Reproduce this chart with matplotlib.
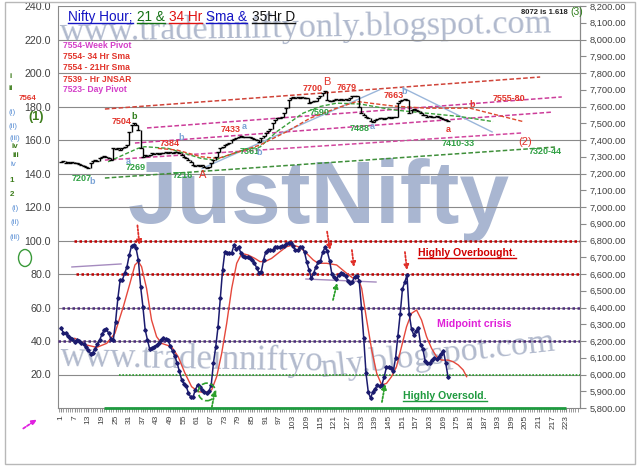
import matplotlib
matplotlib.use('Agg')
import matplotlib.pyplot as plt
from matplotlib import font_manager
from matplotlib.patches import Ellipse, Rectangle, FancyArrowPatch
from matplotlib.lines import Line2D
from matplotlib.ticker import FixedLocator, FuncFormatter
import numpy as np


def has_font(name):
    try:
        font_manager.findfont(name, fallback_to_default=False)
        return True
    except Exception:
        return False


SANS = 'Liberation Sans'
NARROW = 'Liberation Sans Narrow' if has_font('Liberation Sans Narrow') else SANS
SERIF = 'Liberation Serif'
plt.rcParams['font.family'] = [SANS, 'DejaVu Sans']

# ---------------- data ----------------
bars = np.arange(1, 172)
price = [147, 147.5, 146.5, 147, 146, 147, 146.5, 146, 145.5, 145,
         144.5, 144, 143, 146, 147.5, 148, 147.5, 149, 150, 150.5,
         150, 149.5, 148, 155, 154.5, 155, 154, 155, 156, 157,
         165, 169, 170, 169, 166, 155, 150, 151, 150.5, 151,
         152, 151.5, 152, 151.5, 152, 152.5, 153, 152.5, 153, 152.5,
         153, 153, 152.5, 151, 150, 149, 148, 147, 145, 144.5,
         145, 144.5, 145, 144, 143.5, 144, 146, 148, 150, 153,
         155, 156, 157, 157.5, 158, 160, 160.5, 161, 162, 162.5,
         162, 162, 161.5, 161.5, 161, 160.5, 160, 159, 161, 162.5,
         164, 165.5, 166.5, 170, 172, 173, 173, 174, 176, 179,
         184, 185, 185.5, 185, 185.5, 185, 185.5, 185, 185, 182,
         182.5, 183, 183.5, 185, 186.5, 188, 189, 184, 183, 183.5,
         184, 184.5, 184, 184.5, 184, 184.5, 184, 185, 186, 186.5,
         186, 180, 176, 175, 174, 173, 171.5, 171, 172, 172.5,
         173, 173, 172.5, 173, 173.5, 173, 173.5, 174, 182, 183,
         184, 184.5, 184, 176, 178, 178.5, 178, 177.5, 176, 175,
         175, 174, 174.5, 174, 174, 174.5, 174, 173, 172.5, 172, 171.5]

osc = [48, 45, 44.5, 43, 42, 41, 39.6, 40.5, 40, 39,
       38, 36.5, 34.6, 32.5, 33, 35.5, 38, 40.5, 44, 46.6,
       47, 44.5, 41, 40.6, 51.6, 65.5, 76.4, 76.6, 80.4, 84.4,
       91.3, 96.7, 97.3, 95.3, 88.4, 72.4, 60.5, 46.6, 40.6, 35,
       35.6, 36.6, 37.6, 38.6, 40.6, 41.6, 41, 40.6, 37, 34,
       31, 27, 22, 17, 14.5, 13, 9, 6.4, 6.4, 10.8,
       13.7, 12.7, 10.8, 9.5, 9.2, 10, 13.7, 27, 36.6, 48.5,
       65.5, 82.4, 93.3, 92.3, 92.3, 92.5, 97.3, 94.7, 96.3, 92.7,
       90.7, 90.3, 90, 89.3, 88.4, 86.8, 83.4, 80.8, 81.4, 88.4,
       93.3, 94.3, 94.5, 94.3, 95.9, 96, 95.9, 96.7, 96.7, 97.9,
       98.7, 98.3, 96.7, 94.3, 94.3, 95.9, 96, 93, 87, 82.4,
       77.4, 80.4, 84.4, 86.9, 88, 93, 96, 93.5, 88, 80,
       78, 76.8, 79.4, 80.4, 80, 78.6, 76, 74.5, 75.5, 78.5,
       79, 76, 60, 41.6, 20.7, 9.5, 5.8, 9.8, 11.5, 13.7,
       13.1, 14, 18.7, 24.5, 24.5, 24, 22, 30, 43, 56,
       71, 75, 79.4, 56, 47, 43.6, 46, 47.6, 37.5, 35,
       28, 26.7, 27, 28.5, 29.6, 29, 30.5, 32.5, 34.2, 27, 18.7]

sig_x = [7.1, 12.3, 16.7, 21.1, 24.7, 28.4, 31.3, 33.5, 35, 36.4,
         38.6, 40.8, 43, 45.2, 47.4, 49.6, 52.5, 55.5, 58.4, 61.3,
         64.3, 67.2, 69.4, 71.6, 73.8, 76, 78.2, 80.4, 83.3, 86.2,
         88.4, 90.6, 93.5, 97.2, 100.1, 103, 106, 108.9, 111.8, 114,
         117.7, 122.1, 126.5, 129.4, 131.6, 133.1, 135.3, 137.5, 139.7, 141.9,
         144, 146.2, 148.4, 150.6, 152.8, 155, 157.2, 159.4, 161.6, 163.8,
         166, 168.2, 171.1, 173.3, 175.5, 177.7, 179.2]
sig_y = [41.6, 37.6, 36.2, 38.6, 44.6, 60.5, 74.4, 85.4, 87.4, 84.4,
         71.4, 52.5, 42.6, 38.6, 37.6, 36.6, 30.6, 20.7, 12.7, 9.8,
         9.2, 10.8, 18.7, 32.6, 50.5, 71.4, 86.4, 92.3, 91.3, 89.3,
         87.4, 87.4, 89.3, 93.3, 96.3, 97.3, 95.9, 92.3, 88.4, 86.4,
         86.4, 85.4, 80.4, 77.4, 77.4, 71.4, 52.5, 34.6, 20.7, 13.7,
         14.7, 18.7, 24.7, 36.6, 48.5, 56.5, 58.5, 52.5, 42.6, 35.6,
         30.6, 28.6, 28.6, 27.6, 25.7, 22.7, 18.7]

sma21_x = [21.7, 34.8, 37.8, 48.0, 55.4, 62.6, 68.5, 81.0, 88.4, 95.8,
           107.3, 114.8, 122.1, 132.4, 146.9, 161.7, 176.3, 190.8]
sma21_y = [147, 155, 156, 155, 152, 149, 148, 154, 155.8, 165,
           176, 180, 182, 181.5, 178, 176, 174, 171]
sma34_x = [43.6, 52.0, 62.5, 70.0, 88.4, 100.2, 110.4, 122.1, 130.9, 146.9,
           161.7, 180.7, 190.8, 204.0]
sma34_y = [155, 154, 150, 149, 157, 165, 173, 179, 183, 180.3,
           179, 179, 175.5, 171]

chan_x0 = [20.3, 38.8, 33.5, 20.3, 20.3]
chan_y0 = [178.5, 167.2, 158.2, 148.0, 137.3]
chan_x1 = [211.5, 221.0, 217.2, 203.5, 218.0]
chan_y1 = [197.6, 185.7, 176.7, 164.2, 155.8]

wave_x0 = [63, 151.3]
wave_y0 = [143, 191]
wave_x1 = [141, 190.4]
wave_y1 = [190, 164.8]

zone_lvl = [100, 80, 60, 40, 20]
zone_x0 = [6.7, 7.6, 1.4, -0.3, 26.5]
floor_x = [19.9, 222.9]

plab_text = ['7207', 'b', '7504', 'b', '7269', 'a', '7384', 'b', '7216', 'A',
             '7433', 'a', '7361', 'b', '7700', 'B', '7679', '7590', '7488', 'a',
             '7663', 'b', '7555-80', 'b', 'a', '7410-33', '(2)', '7320-44']
plab_x = [10.2, 14.6, 27.8, 33.0, 34.0, 30.4, 48.9, 53.7, 54.6, 63.4,
          75.7, 81.4, 84.0, 88.0, 111.7, 117.9, 126.7, 114.8, 132.4, 137.6,
          147.3, 151.7, 197.8, 181.6, 171.0, 175.4, 204.9, 213.7]
plab_y = [137.3, 135.5, 171.3, 174.3, 143.3, 146.9, 158.2, 161.2, 139.1, 139.1,
          166.0, 167.8, 153.4, 152.8, 191.0, 194.6, 191.6, 176.7, 166.6, 167.8,
          186.3, 188.7, 185.0, 180.9, 166.0, 158.2, 158.8, 153.4]

pivot_text = ['7554-Week Pivot', '7554- 34 Hr Sma', '7554 - 21Hr Sma',
              '7539 - Hr JNSAR', '7523- Day Pivot']

x_tick_vals = list(range(1, 224, 6))
left_ticks = list(range(0, 241, 20))
right_ticks = list(range(5800, 8201, 100))

# ---------------- colours ----------------
RED = '#e2342b'
GRN = '#2fa043'
BLU = '#7aa3d6'
DGRN = '#2f7d1a'
MAG = '#d43fc8'
GRID = '#8a8a8a'
plab_col = [GRN, BLU, RED, DGRN, GRN, BLU, RED, BLU, GRN, RED,
            RED, BLU, GRN, BLU, RED, RED, RED, GRN, GRN, BLU,
            RED, BLU, RED, RED, RED, GRN, RED, GRN]
pivot_col = [MAG, RED, RED, RED, MAG]
chan_col = ['#d0453a', '#cc3d9a', '#cc3d9a', '#d2489f', '#3f8f3a']

# ---------------- figure ----------------
W, H = 640, 467
fig = plt.figure(figsize=(6.4, 4.67), dpi=100)
fig.patch.set_facecolor('white')
R = fig.canvas.get_renderer()


def P(x, y):
    return (x / W, 1 - y / H)


fig.add_artist(Rectangle(P(5, 464), 630 / W, 462 / H, transform=fig.transFigure,
                         fill=False, ec='#b8b8b8', lw=1))

ax = fig.add_axes([58 / W, 1 - 408 / H, 522 / W, 402 / H])
ax.set_xlim(-0.3, 229)
ax.set_ylim(0, 240)
ax.spines['top'].set_visible(False)
for s in ['left', 'right', 'bottom']:
    ax.spines[s].set_color(GRID)
    ax.spines[s].set_linewidth(0.8)


def fit(t, target):
    w = t.get_window_extent(R).width
    t.set_fontsize(t.get_fontsize() * target / w)


# watermarks (behind everything)
t = ax.text(*P(319, 223), 'JustNifty', transform=fig.transFigure, ha='center',
            va='baseline', family=NARROW, weight='bold', color='#a9b6d1',
            fontsize=80, zorder=0.1)
fit(t, 382)
t = ax.text(*P(60, 41), 'www.tradeinniftyonly.blogspot.com', transform=fig.transFigure,
            ha='left', va='baseline', family=SERIF, color='#b0b9cd', fontsize=22,
            zorder=0.1, rotation_mode='anchor')
fit(t, 492)
t.set_rotation(1)
t = ax.text(*P(60, 366), 'www.tradeinniftyo', transform=fig.transFigure,
            ha='left', va='baseline', family=SERIF, color='#b2bacd', fontsize=22,
            zorder=0.1, rotation_mode='anchor')
fit(t, 262)
t.set_rotation(-1)
t = ax.text(*P(321, 377), 'nly.blogspot.com', transform=fig.transFigure,
            ha='left', va='baseline', family=SERIF, color='#b2bacd', fontsize=22,
            zorder=0.1, rotation_mode='anchor')
fit(t, 236)
t.set_rotation(6.5)

# gridlines
for v in left_ticks[1:]:
    ax.axhline(v, color=GRID, lw=0.8, zorder=1)

# channel / trend lines
for i in range(len(chan_x0)):
    ax.plot([chan_x0[i], chan_x1[i]], [chan_y0[i], chan_y1[i]], color=chan_col[i],
            lw=1.1, ls=(0, (3, 1.5)), zorder=2)
for i in range(len(wave_x0)):
    ax.plot([wave_x0[i], wave_x1[i]], [wave_y0[i], wave_y1[i]], color='#9ab6da',
            lw=1.0, zorder=2)

# moving averages
ax.plot(sma21_x, sma21_y, color='#3aa03a', lw=1.0, ls=(0, (3, 1.5)), zorder=3)
ax.plot(sma34_x, sma34_y, color='#de4a2e', lw=1.0, ls=(0, (3, 1.5)), zorder=3)

# price bars
prev = [price[0]] + price[:-1]
ax.vlines(bars, np.minimum(prev, price), np.maximum(prev, price), color='black',
          lw=1.0, zorder=4)
ax.plot(bars, price, ls='none', marker='_', ms=2.6, mew=1.0, color='black', zorder=4)

# oscillator zones
zone_col = ['#c00000', '#c00000', '#4b2a7b', '#4b2a7b', '#2ca02c']
zone_lw = [1.8, 1.8, 1.8, 1.8, 1.2]
for i, lv in enumerate(zone_lvl):
    ax.hlines(lv, zone_x0[i], 229, color=zone_col[i], lw=zone_lw[i],
              linestyles=[(0, (1, 1))], zorder=3)
ax.hlines(0, floor_x[0], floor_x[1], color='#1f9a3f', lw=2.0, zorder=3, clip_on=False)

# short purple lines in lower pane
ax.plot([5.8, 27.4], [84.2, 86.0], color='#a58bbf', lw=1.0, zorder=3)
ax.plot([108.6, 139.4], [77.0, 75.2], color='#a58bbf', lw=1.0, zorder=3)

# oscillator
ax.plot(sig_x, sig_y, color='#e5483c', lw=1.0, zorder=5)
ax.plot(bars, osc, color='#1b1b6e', lw=1.1, marker='D', ms=1.8, zorder=6)

# arrows
for (x0, y0, x1, y1) in [(34.6, 109, 35.5, 97.3), (117.9, 105.3, 119.2, 94.3),
                         (128.8, 94.3, 129.7, 84.2), (152.1, 93.1, 153.0, 82.4)]:
    ax.annotate('', xy=(x1, y1), xytext=(x0, y0),
                arrowprops=dict(arrowstyle='-|>', color='#e0302a', lw=1.3,
                                ls=(0, (1, 1)), mutation_scale=7, shrinkA=0, shrinkB=0),
                zorder=7)
for (x0, y0, x1, y1) in [(67.3, 0.6, 68.7, 10.7), (120.5, 64.5, 122.3, 74.6),
                         (142.0, 3.6, 143.4, 14.3)]:
    ax.annotate('', xy=(x1, y1), xytext=(x0, y0),
                arrowprops=dict(arrowstyle='-|>', color='#2ca02c', lw=1.3,
                                ls=(0, (1, 1)), mutation_scale=7, shrinkA=0, shrinkB=0),
                zorder=7)
ax.add_patch(Ellipse((65.1, 9.6), 7.6, 10.5, fill=False, ec='#2ca02c', ls='--',
                     lw=1.2, zorder=7))

# price labels
for s, x, y, c in zip(plab_text, plab_x, plab_y, plab_col):
    big = s in ('A', 'B', '(2)')
    ax.text(x, y, s, color=c, ha='center', va='center', family=NARROW,
            fontsize=8 if big else 6.5, weight='normal' if big else 'bold', zorder=8)

# axes ticks
ax.set_yticks(left_ticks)
ax.yaxis.set_major_formatter(FuncFormatter(lambda v, p: '' if v == 0 else f'{v:.1f}'))
ax.tick_params(axis='y', length=0, pad=5, labelsize=7.7, labelcolor='#404040')
ax.set_xticks(x_tick_vals)
ax.set_xticklabels([str(v) for v in x_tick_vals], rotation=90, fontsize=6,
                   color='#404040')
ax.xaxis.set_minor_locator(FixedLocator(np.arange(0, 229)))
ax.tick_params(axis='x', which='major', length=3, color=GRID, pad=2)
ax.tick_params(axis='x', which='minor', length=3, color=GRID)

ax2 = ax.twinx()
ax2.set_ylim(5800, 8200)
ax2.set_yticks(right_ticks)
ax2.yaxis.set_major_formatter(FuncFormatter(lambda v, p: f'{v:,.2f}'))
ax2.tick_params(axis='y', direction='out', length=4, color=GRID, labelsize=6.7,
                labelcolor='#404040', pad=3)
for s in ['top', 'left', 'bottom']:
    ax2.spines[s].set_visible(False)
ax2.spines['right'].set_color(GRID)
ax2.spines['right'].set_linewidth(0.8)


# ---------------- text helpers ----------------
def text_width(s, **kw):
    a = fig.text(0, 0, s + '|', **kw)
    b = fig.text(0, 0, '|', **kw)
    w = a.get_window_extent(R).width - b.get_window_extent(R).width
    a.remove()
    b.remove()
    return w


def seq_text(x0, yb, parts, size, family, weight='normal', underline=True,
             center=False, ul_off=2.0):
    kw = dict(fontsize=size, family=family, weight=weight)
    total = text_width(''.join(s for s, c in parts), **kw)
    x = x0 - total / 2 if center else x0
    for s, c in parts:
        lead = len(s) - len(s.lstrip(' '))
        core = s.strip(' ')
        if lead:
            x += text_width(' ' * lead, **kw)
        t = fig.text(*P(x, yb), core, color=c, ha='left', va='baseline', **kw)
        w = text_width(core, **kw)
        x_end = t.get_window_extent(R).x1
        if underline:
            fig.add_artist(Line2D([x / W, (x + w) / W], [1 - (yb + ul_off) / H] * 2,
                                  transform=fig.transFigure, color=c, lw=1.0))
        x = max(x + w, x_end + 0.5)


seq_text(68, 21, [('Nifty Hour;', '#1414c4'), (' 21 &', '#127012'),
                  (' 34 Hr', '#e01010'), (' Sma &', '#1414c4'), (' 35Hr D', '#111111')],
         9.8, SANS)
seq_text(467, 256, [('Highly Overbought.', '#d00000')], 7.6, SANS, 'bold', center=True,
         ul_off=1.6)
seq_text(474, 327, [('Midpoint crisis', '#e020d8')], 7.6, SANS, 'bold', underline=False,
         center=True)
seq_text(445, 399, [('Highly Oversold.', '#1f9a3f')], 7.6, SANS, 'bold', center=True,
         ul_off=1.6)

# pivot block
psize = 6.4 * 68 / text_width(pivot_text[0], fontsize=6.4, family=NARROW, weight='bold')
for s, c, yb in zip(pivot_text, pivot_col, [48, 59, 70.5, 82, 92]):
    fig.text(*P(63, yb), s, color=c, ha='left', va='baseline', fontsize=psize,
             family=NARROW, weight='bold')

# top-right note
fig.text(*P(568, 14), '8072 is 1.618', ha='right', va='baseline', fontsize=5.5,
         family=NARROW, weight='bold', color='#222222')
fig.text(*P(570, 15), '(3)', ha='left', va='baseline', fontsize=7.5, family=SANS,
         color='#2f7d1a')

# left-margin wave labels
G, B = '#3d7d1c', '#5a8fd4'
margin = [('i', 11, 77, G), ('ii', 11, 89, G), ('7564', 28, 98, '#e2342b'),
          ('(i)', 12, 113, B), ('(1)', 36, 117, G), ('(ii)', 13, 127, B),
          ('(iii)', 15, 139, B), ('iv', 15, 147, G), ('iii', 16, 155, G),
          ('iv', 13, 165, B), ('1', 12, 181, G), ('2', 12, 194, G),
          ('(i)', 15, 208, B), ('(ii)', 15, 222, B), ('(iii)', 15, 238, B)]
for s, x, y, c in margin:
    big = s == '(1)'
    fig.text(*P(x, y), s, color=c, ha='center', va='center',
             fontsize=9 if big else 5.8, family=NARROW,
             weight='bold' if (c == G or s == '7564') else 'normal')

fig.add_artist(Ellipse(P(25, 258), 13 / W, 17 / H, transform=fig.transFigure,
                       fill=False, ec='#3a9a3a', lw=1.0))
fig.add_artist(FancyArrowPatch(P(21, 430), P(39, 418), transform=fig.transFigure,
                               arrowstyle='-|>', mutation_scale=7, color='#e020e0',
                               lw=1.3, linestyle=(0, (1.5, 1))))

fig.savefig('out.png', dpi=100, facecolor='white')
